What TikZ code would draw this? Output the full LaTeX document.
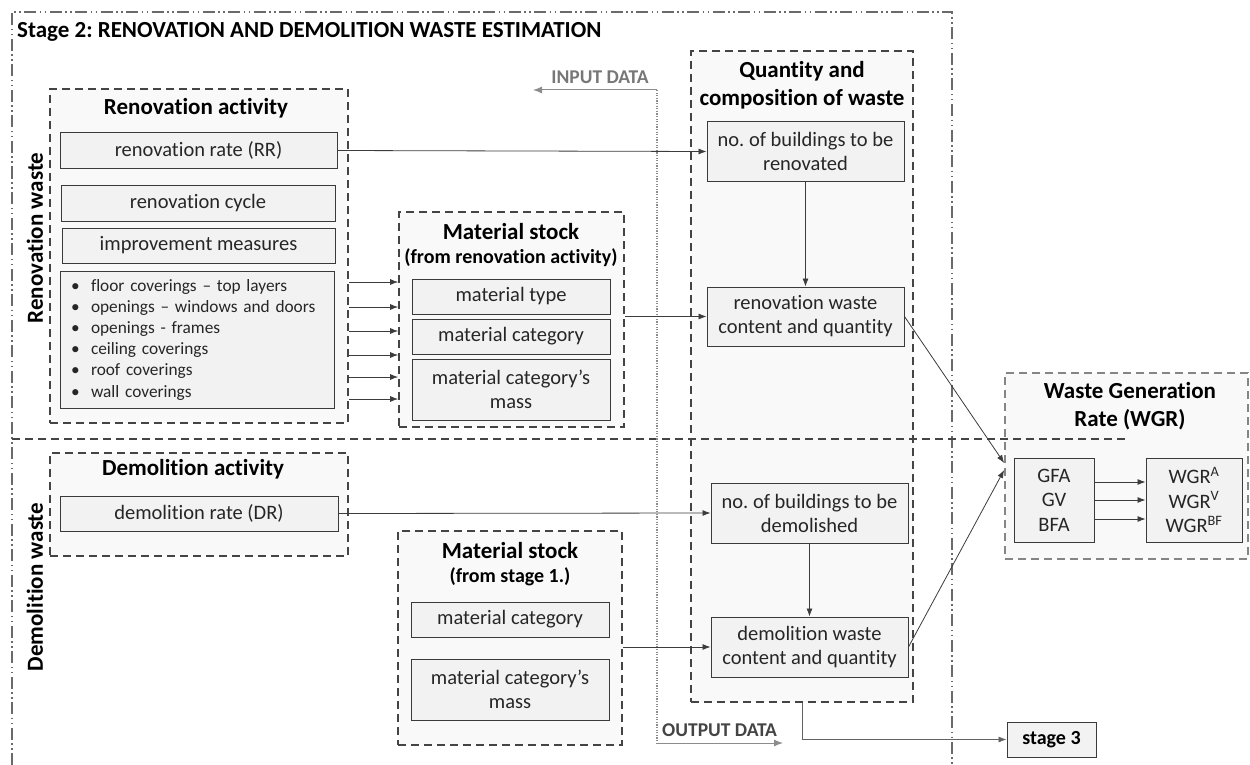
\documentclass[tikz,border=0pt]{standalone}
\usepackage{fontspec}
\setmainfont{Carlito}[Ligatures=NoCommon]
\usetikzlibrary{arrows.meta,calc}
\definecolor{boxline}{HTML}{3A3A3A}
\definecolor{boxfill}{HTML}{F2F2F2}
\definecolor{grpline}{HTML}{444444}
\definecolor{grpfill}{HTML}{F9F9F9}
\definecolor{wgrline}{HTML}{858585}
\definecolor{txt}{HTML}{262626}
\definecolor{arrline}{HTML}{3C3C3C}
\definecolor{framecol}{HTML}{6A6A6A}
\definecolor{iocol}{HTML}{8C8C8C}
\frenchspacing
\tikzset{
  ibox/.style={draw=boxline, fill=boxfill, line width=1pt, font=\fontsize{20.5}{24}\selectfont, text=txt, align=center, inner sep=0pt},
  grp/.style={draw=grpline, fill=grpfill, line width=1.7pt, dash pattern=on 8pt off 5pt, inner sep=0pt},
  sz/.style 2 args={minimum width=#1, minimum height=#2},
  ttl/.style={font=\bfseries\fontsize{23}{28}\selectfont, text=black, align=center, inner sep=0pt},
  subttl/.style={font=\bfseries\fontsize{20}{24}\selectfont, text=black, align=center, inner sep=0pt},
  arr/.style={draw=arrline, line width=0.8pt, -{Latex[length=8pt,width=6pt]}},
  sepline/.style={draw=grpline, line width=1.4pt, dash pattern=on 8pt off 5pt},
  framestyle/.style={draw=framecol, line width=1.3pt, dash pattern=on 12pt off 3.5pt on 1.5pt off 3.5pt on 1.5pt off 3.5pt},
  iodot/.style={draw=iocol, line width=1.2pt, dash pattern=on 1.2pt off 1.4pt},
  ioarr/.style={draw=iocol, line width=1pt, -{Latex[length=9pt,width=7pt]}},
}
\newcommand{\blt}{\makebox[30pt][l]{\hspace{10pt}\textbullet}}
\begin{document}
\begin{tikzpicture}[x=1pt,y=-1pt]
\useasboundingbox (0,0) rectangle (1250,765);

% outer frame
\draw[framestyle] (12,765) -- (12,12) -- (952,12) -- (952,765);
\node[anchor=west, ttl] (stitle) at (17,32) {Stage 2: RENOVATION AND DEMOLITION WASTE ESTIMATION};

% group boxes
\node[grp, sz={298}{334}] (ra) at (199,256) {};
\node[grp, sz={298}{103}] (da) at (199,504.5) {};
\node[grp, sz={225}{215}] (msr) at (511.5,319.5) {};
\node[grp, sz={224}{214}] (ms1) at (510,638) {};
\node[grp, sz={222}{651}] (qc) at (802,376.5) {};
\node[grp, draw=wgrline, sz={243}{186}] (wgr) at (1126.5,466) {};

% separator
\draw[sepline] (12,439) -- (1127,439);

% side labels
\node[ttl, rotate=90] (lren) at (35,238) {Renovation waste};
\node[ttl, rotate=90] (ldem) at (35,587) {Demolition waste};

% titles
\node[ttl] (tra) at (196,108) {Renovation activity};
\node[ttl] (tda) at (193,469) {Demolition activity};
\node[ttl] (tmsr) at (511,232) {Material stock};
\node[subttl] (smsr) at (511,258) {(from renovation activity)};
\node[ttl] (tms1) at (510,551) {Material stock};
\node[subttl] (sms1) at (510,577) {(from stage 1.)};
\node[ttl] (tqc) at (802,85) {Quantity and\\composition of waste};
\node[ttl] (twgr) at (1130,406) {Waste Generation\\Rate (WGR)};

% inner boxes
\node[ibox, sz={277}{35}] (rr) at (198.5,150.5) {renovation rate (RR)};
\node[ibox, sz={274}{36}] (rc) at (198,203) {renovation cycle};
\node[ibox, sz={273}{35}] (im) at (198.5,245.5) {improvement measures};
\node[ibox, sz={274}{137}, text width=272pt, inner xsep=1pt, align=left, font=\fontsize{17.3}{21.2}\selectfont] (rl) at (197,339.5)
 {\blt floor coverings – top layers\\
  \blt openings – windows and doors\\
  \blt openings - frames\\
  \blt ceiling coverings\\
  \blt roof coverings\\
  \blt wall coverings};
\node[ibox, sz={198}{35}] (mt) at (511,296.5) {material type};
\node[ibox, sz={198}{35}] (mc) at (511,336.5) {material category};
\node[ibox, sz={198}{61}] (mm) at (511,389.5) {material category’s\\mass};
\node[ibox, sz={197}{59}] (nbr) at (805.5,151.5) {no. of buildings to be\\renovated};
\node[ibox, sz={197}{59}] (rw) at (805.5,316.5) {renovation waste\\content and quantity};
\node[ibox, sz={278}{35}] (dr) at (199,513.5) {demolition rate (DR)};
\node[ibox, sz={197}{60}] (nbd) at (809.5,513) {no. of buildings to be\\demolished};
\node[ibox, sz={197}{60}] (dw) at (809.5,647) {demolition waste\\content and quantity};
\node[ibox, sz={198}{35}] (mc1) at (510,619.5) {material category};
\node[ibox, sz={198}{61}] (mm1) at (510,689.5) {material category’s\\mass};
\node[ibox, sz={80}{84}, font=\fontsize{20.5}{24.5}\selectfont] (gfa) at (1054,500) {GFA\\GV\\BFA};
\node[ibox, sz={96}{84}, font=\fontsize{20.5}{24.5}\selectfont] (wgrv) at (1194,500) {WGR\textsuperscript{A}\\WGR\textsuperscript{V}\\WGR\textsuperscript{BF}};
\node[ibox, sz={89}{35}, font=\bfseries\fontsize{20}{24}\selectfont, text=black] (st3) at (1051.5,739.5) {stage 3};

% input / output data
\coordinate (iotop) at (657,90);
\coordinate (iobot) at (657,743);
\coordinate (inend) at (533,90);
\coordinate (outend) at (783,743);
\draw[iodot] (iotop) -- (iobot);
\draw[ioarr] (iotop) -- (inend);
\draw[ioarr] (iobot) -- (outend);
\node[font=\bfseries\fontsize{19.5}{23}\selectfont, text=iocol!85!black, inner sep=0pt] (indata) at (600,77) {INPUT DATA};
\node[anchor=west, font=\bfseries\fontsize{19.5}{23}\selectfont, text=grpline, inner sep=0pt] (outdata) at (662,730) {OUTPUT DATA};

% connectors
\draw[arr] (rr.east) -- (nbr.west);
\draw[arr] (nbr.south) -- (rw.north);
\foreach \yy/\nm in {282/a,307/b,331/c,355/d,377/e,399/f}{
  \coordinate (ly\nm) at (0,\yy);
  \draw[arr] (ra.east |- ly\nm) -- (msr.west |- ly\nm);
}
\draw[arr] (msr.east |- rw.west) -- (rw.west);
\draw[arr] (dr.east) -- (nbd.west);
\draw[arr] (nbd.south) -- (dw.north);
\draw[arr] (ms1.east |- dw.west) -- (dw.west);
\draw[arr] (rw.east) -- ($(wgr.west)+(0,-3)$);
\draw[arr] (dw.east) -- ($(wgr.west)+(0,4)$);
\draw[arr] ($(gfa.east)+(0,-18)$) -- ($(wgrv.west)+(0,-18)$);
\draw[arr] (gfa.east) -- (wgrv.west);
\draw[arr] ($(gfa.east)+(0,19)$) -- ($(wgrv.west)+(0,19)$);
\draw[arr, draw=iocol!70!black] (qc.south) |- (st3.west);
\end{tikzpicture}
\end{document}
